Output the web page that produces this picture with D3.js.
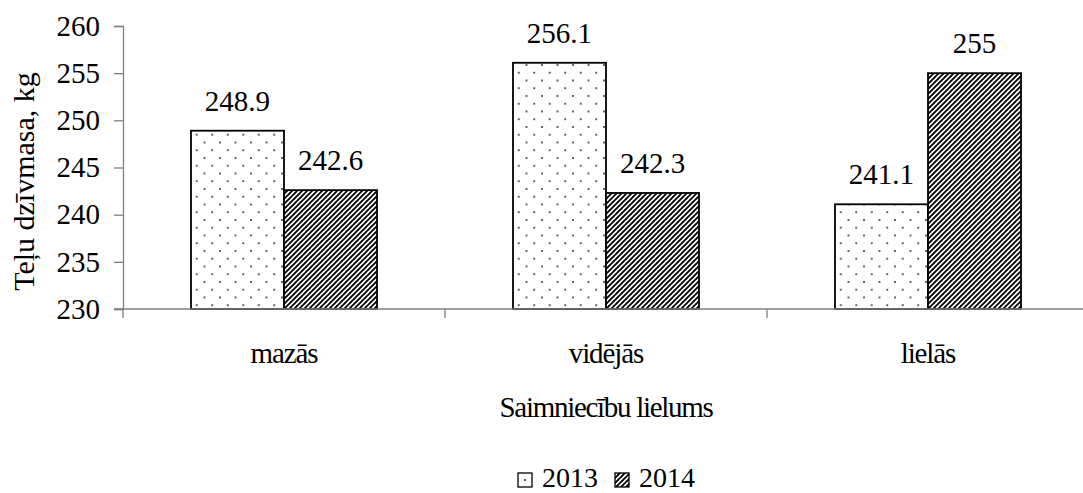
<!DOCTYPE html>
<html>
<head>
<meta charset="utf-8">
<script src="https://cdn.jsdelivr.net/npm/d3@7/dist/d3.min.js"></script>
<style>
  html, body { margin: 0; padding: 0; background: #fff; }
  svg { display: block; }
  svg text { font-family: "Liberation Serif", "Times New Roman", "DejaVu Serif", serif; }
</style>
</head>
<body>
<svg id="chart" width="1083" height="493"></svg>
<script>
// Calf live weight by farm size, two years
const categories = ["mazās", "vidējās", "lielās"];
const years = ["2013", "2014"];
const values2013 = [248.9, 256.1, 241.1];
const values2014 = [242.6, 242.3, 255];
const yTicks = [230, 235, 240, 245, 250, 255, 260];

const svg = d3.select("#chart");
const plotLeft = 123, plotRight = 1089, plotTop = 26, plotBottom = 309;
const numSize = 29, textSize = 29;

// patterns: dotted for 2013, diagonal hatch for 2014
const defs = svg.append("defs");
const dots = defs.append("pattern")
  .attr("id", "dots").attr("patternUnits", "userSpaceOnUse")
  .attr("width", 15.5).attr("height", 15.5).attr("x", 3).attr("y", 2);
dots.append("rect").attr("width", 15.5).attr("height", 15.5).attr("fill", "#fff");
dots.append("circle").attr("cx", 1).attr("cy", 1).attr("r", 0.95).attr("fill", "#222");
dots.append("circle").attr("cx", 8.75).attr("cy", 8.75).attr("r", 0.95).attr("fill", "#222");

// legend swatch version of the dots: one dot in the middle of the box
const dotsKey = defs.append("pattern")
  .attr("id", "dotsKey").attr("patternUnits", "objectBoundingBox")
  .attr("patternContentUnits", "objectBoundingBox")
  .attr("width", 1).attr("height", 1);
dotsKey.append("rect").attr("width", 1).attr("height", 1).attr("fill", "#fff");
dotsKey.append("circle").attr("cx", 0.5).attr("cy", 0.5).attr("r", 0.07).attr("fill", "#222");

const hatch = defs.append("pattern")
  .attr("id", "hatch").attr("patternUnits", "userSpaceOnUse")
  .attr("width", 5).attr("height", 5);
hatch.append("rect").attr("width", 5).attr("height", 5).attr("fill", "#fff");
hatch.append("path")
  .attr("d", "M-1,1 L1,-1 M0,5 L5,0 M4,6 L6,4")
  .attr("stroke", "#000").attr("stroke-width", 1.9);

const x0 = d3.scaleBand().domain(categories).range([plotLeft, plotRight]).padding(0);
const x1 = d3.scaleBand().domain(years).range([0, x0.bandwidth()])
  .paddingInner(0).paddingOuter(0.731);
const y = d3.scaleLinear().domain([230, 260]).range([plotBottom, plotTop]);

const rows = categories.map((c, i) => ({ cat: c, vals: [values2013[i], values2014[i]] }));

// bars
const groups = svg.append("g").selectAll("g").data(rows).join("g")
  .attr("transform", d => `translate(${x0(d.cat)},0)`);

groups.selectAll("rect").data(d => d.vals.map((v, j) => ({ year: years[j], v })))
  .join("rect")
  .attr("x", d => x1(d.year))
  .attr("y", d => y(d.v))
  .attr("width", x1.bandwidth())
  .attr("height", d => y(230) - y(d.v))
  .attr("fill", d => d.year === "2013" ? "url(#dots)" : "url(#hatch)")
  .attr("stroke", "#000").attr("stroke-width", 1.8);

groups.selectAll("text.val").data(d => d.vals.map((v, j) => ({ year: years[j], v })))
  .join("text").attr("class", "val")
  .attr("x", d => x1(d.year) + x1.bandwidth() / 2)
  .attr("y", d => y(d.v) - 20)
  .attr("text-anchor", "middle")
  .attr("font-size", numSize).attr("fill", "#000")
  .text(d => String(d.v));

// y axis
const yAxis = svg.append("g").attr("transform", `translate(${plotLeft},0)`)
  .call(d3.axisLeft(y).tickValues(yTicks).tickSize(9).tickPadding(14).tickFormat(d3.format("d")));
yAxis.attr("font-family", null).attr("font-size", null);
yAxis.select(".domain").attr("stroke", "#808080").attr("stroke-width", 1.3);
yAxis.selectAll(".tick line").attr("stroke", "#808080").attr("stroke-width", 1.3);
yAxis.selectAll("text").attr("font-size", numSize).attr("fill", "#000");

// x axis: ticks at band boundaries, labels at band centres
const xAxisG = svg.append("g").attr("transform", `translate(0,${plotBottom})`);
xAxisG.append("line").attr("x1", plotLeft - 9).attr("x2", plotRight)
  .attr("stroke", "#808080").attr("stroke-width", 1.3);
const bounds = categories.map(c => x0(c)).concat([x0(categories[categories.length - 1]) + x0.bandwidth()]);
xAxisG.selectAll("line.tk").data(bounds).join("line").attr("class", "tk")
  .attr("x1", d => d).attr("x2", d => d).attr("y1", 0).attr("y2", 9)
  .attr("stroke", "#808080").attr("stroke-width", 1.3);
xAxisG.selectAll("text").data(categories).join("text")
  .attr("x", d => x0(d) + x0.bandwidth() / 2)
  .attr("y", 54)
  .attr("text-anchor", "middle")
  .attr("font-size", textSize).attr("letter-spacing", -1.1).attr("fill", "#000")
  .text(d => d);

// axis titles
svg.append("text")
  .attr("x", (plotLeft + plotRight) / 2).attr("y", 417)
  .attr("text-anchor", "middle").attr("font-size", textSize)
  .attr("letter-spacing", -1.3).attr("fill", "#000")
  .text("Saimniecību lielums");

svg.append("text")
  .attr("transform", `translate(34,${(plotTop + plotBottom) / 2 + 14}) rotate(-90)`)
  .attr("text-anchor", "middle").attr("font-size", 30).attr("fill", "#000")
  .text("Teļu dzīvmasa, kg");

// legend
const legend = svg.append("g").attr("transform", "translate(518,473)");
const items = legend.selectAll("g").data(years).join("g")
  .attr("transform", (d, i) => `translate(${i * 97},0)`);
items.append("rect").attr("width", 14).attr("height", 14)
  .attr("fill", d => d === "2013" ? "url(#dotsKey)" : "url(#hatch)")
  .attr("stroke", "#000").attr("stroke-width", 1.3);
items.append("text").attr("x", 24).attr("y", 14)
  .attr("font-size", 28).attr("fill", "#000").text(d => d);
</script>
</body>
</html>
